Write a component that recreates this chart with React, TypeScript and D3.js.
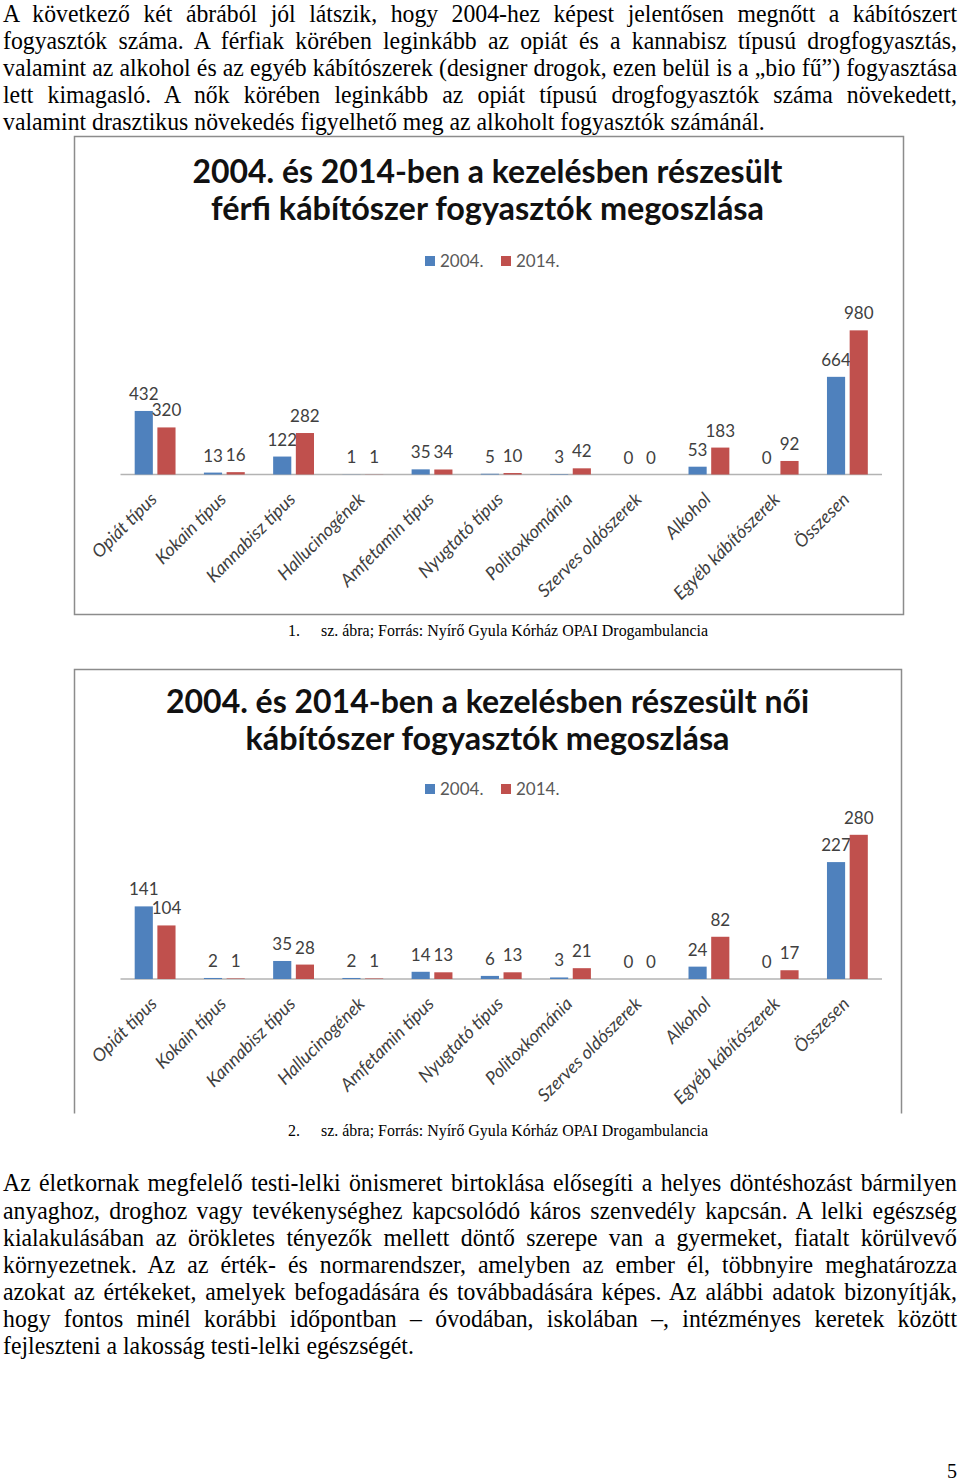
import { useEffect, useRef } from 'react';
import * as d3 from 'd3';

const categories = [
  'Opiát típus',
  'Kokain típus',
  'Kannabisz típus',
  'Hallucinogének',
  'Amfetamin típus',
  'Nyugtató típus',
  'Politoxkománia',
  'Szerves oldószerek',
  'Alkohol',
  'Egyéb kábítószerek',
  'Összesen',
];
const seriesNames = ['2004.', '2014.'];
const colors = ['#4F81BD', '#C0504D'];

const male2004 = [432, 13, 122, 1, 35, 5, 3, 0, 53, 0, 664];
const male2014 = [320, 16, 282, 1, 34, 10, 42, 0, 183, 92, 980];
const female2004 = [141, 2, 35, 2, 14, 6, 3, 0, 24, 0, 227];
const female2014 = [104, 1, 28, 1, 13, 13, 21, 0, 82, 17, 280];

const para1 = [
  'A következő két ábrából jól látszik, hogy 2004-hez képest jelentősen megnőtt a kábítószert',
  'fogyasztók száma. A férfiak körében leginkább az opiát és a kannabisz típusú drogfogyasztás,',
  'valamint az alkohol és az egyéb kábítószerek (designer drogok, ezen belül is a „bio fű”) fogyasztása',
  'lett kimagasló. A nők körében leginkább az opiát típusú drogfogyasztók száma növekedett,',
  'valamint drasztikus növekedés figyelhető meg az alkoholt fogyasztók számánál.',
];
const para2 = [
  'Az életkornak megfelelő testi-lelki önismeret birtoklása elősegíti a helyes döntéshozást bármilyen',
  'anyaghoz, droghoz vagy tevékenységhez kapcsolódó káros szenvedély kapcsán. A lelki egészség',
  'kialakulásában az örökletes tényezők mellett döntő szerepe van a gyermeket, fiatalt körülvevő',
  'környezetnek. Az az érték- és normarendszer, amelyben az ember él, többnyire meghatározza',
  'azokat az értékeket, amelyek befogadására és továbbadására képes. Az alábbi adatok bizonyítják,',
  'hogy fontos minél korábbi időpontban – óvodában, iskolában –, intézményes keretek között',
  'fejleszteni a lakosság testi-lelki egészségét.',
];

const maleTitle = ['2004. és 2014-ben a kezelésben részesült', 'férfi kábítószer fogyasztók megoszlása'];
const femaleTitle = ['2004. és 2014-ben a kezelésben részesült női', 'kábítószer fogyasztók megoszlása'];
const caption = 'sz. ábra; Forrás: Nyírő Gyula Kórház OPAI Drogambulancia';

const chartFont = 'Lato, "Open Sans", sans-serif';
const serif = '"Liberation Serif", "Times New Roman", serif';

interface ChartProps {
  frame: { x: number; y: number; w: number; h: number; openBottom?: boolean };
  titles: string[];
  titleWidths: number[];
  titleY: number[];
  legendY: number;
  axisY: number;
  plotTop: number;
  yMax: number;
  v2004: number[];
  v2014: number[];
}

function BarChart({ frame, titles, titleWidths, titleY, legendY, axisY, plotTop, yMax, v2004, v2014 }: ChartProps) {
  const x = d3.scaleBand<string>().domain(categories).range([120.5, 882]).paddingInner(0.41).paddingOuter(0.205);
  const xs = d3.scaleBand<string>().domain(seriesNames).range([0, x.bandwidth()]).paddingInner(0.2);
  const y = d3.scaleLinear().domain([0, yMax]).range([axisY, plotTop]);
  const values = [v2004, v2014];
  const cx = 487.5;

  const framePath = frame.openBottom
    ? `M${frame.x},${frame.y + frame.h}V${frame.y}H${frame.x + frame.w}V${frame.y + frame.h}`
    : `M${frame.x},${frame.y}H${frame.x + frame.w}V${frame.y + frame.h}H${frame.x}Z`;

  return (
    <g>
      <path d={framePath} fill="none" stroke="#8c8c8c" strokeWidth={1.5} />

      {/* cím */}
      {titles.map((t, i) => (
        <text
          key={t}
          x={cx}
          y={titleY[i]}
          textAnchor="middle"
          fontFamily={chartFont}
          fontWeight={700}
          fontSize={32}
          fill="#111"
          textLength={titleWidths[i]}
          lengthAdjust="spacingAndGlyphs"
        >
          {t}
        </text>
      ))}

      {/* jelmagyarázat */}
      {seriesNames.map((s, i) => (
        <g key={s} transform={`translate(${425 + i * 76},${legendY})`}>
          <rect x={0} y={-5} width={10} height={10} fill={colors[i]} />
          <text x={15} y={6} fontFamily={chartFont} fontSize={17} fill="#595959">
            {s}
          </text>
        </g>
      ))}

      {/* tengely */}
      <line x1={120.5} x2={882} y1={axisY} y2={axisY} stroke="#b3b3b3" strokeWidth={1.5} />

      {/* oszlopok */}
      {categories.map((c, ci) => (
        <g key={c} transform={`translate(${x(c)},0)`}>
          {seriesNames.map((s, si) => {
            const v = values[si][ci];
            return (
              <g key={s}>
                <rect
                  x={xs(s)}
                  y={y(v)}
                  width={xs.bandwidth()}
                  height={axisY - y(v)}
                  fill={colors[si]}
                />
                <text
                  x={(xs(s) ?? 0) + xs.bandwidth() / 2}
                  y={y(v) - 11}
                  textAnchor="middle"
                  fontFamily={chartFont}
                  fontSize={17}
                  fill="#404040"
                >
                  {v}
                </text>
              </g>
            );
          })}
          <text
            transform={`translate(${x.bandwidth() / 2 + 3},${axisY + 26}) rotate(-45)`}
            textAnchor="end"
            fontFamily={chartFont}
            fontStyle="italic"
            fontSize={18}
            fill="#404040"
          >
            {c}
          </text>
        </g>
      ))}
    </g>
  );
}

export default function App() {
  const svgRef = useRef<SVGSVGElement>(null);

  useEffect(() => {
    if (!svgRef.current) return;
    const svg = d3.select(svgRef.current);
    svg.selectAll<SVGTextElement, unknown>('text.justify').style('word-spacing', '0px');
    const ref = svg.select<SVGTextElement>('text.scale-ref').node();
    if (!ref) return;
    const s = 762 / ref.getComputedTextLength();
    svg.selectAll('g.body').attr('transform', `translate(3,0) scale(${s},1)`);
    svg.selectAll<SVGTextElement, unknown>('text.justify').each(function () {
      const w = this.getComputedTextLength();
      const spaces = ((this.textContent || '').match(/ /g) || []).length;
      if (spaces > 0) d3.select(this).style('word-spacing', `${(954 / s - w) / spaces}px`);
    });
  }, []);

  const lineH = 27.1;

  return (
    <svg
      ref={svgRef}
      width={960}
      height={1482}
      style={{ position: 'absolute', left: 0, top: 0, background: 'white' }}
    >
      <g className="body" transform="translate(3,0)">
        {para1.map((t, i) => (
          <text
            key={t}
            className={i === para1.length - 1 ? 'scale-ref' : 'justify'}
            x={0}
            y={21.5 + i * lineH}
            fontFamily={serif}
            fontSize={24.5}
            fill="#000"
          >
            {t}
          </text>
        ))}
      </g>

      <BarChart
        frame={{ x: 74.5, y: 136.5, w: 829, h: 478 }}
        titles={maleTitle}
        titleWidths={[590, 553]}
        titleY={[183, 220]}
        legendY={261}
        axisY={474.5}
        plotTop={298}
        yMax={1200}
        v2004={male2004}
        v2014={male2014}
      />
      <text x={288} y={636} fontFamily={serif} fontSize={16}>1.</text>
      <text x={321} y={636} fontFamily={serif} fontSize={16} textLength={387} lengthAdjust="spacingAndGlyphs">
        {caption}
      </text>

      <BarChart
        frame={{ x: 74.5, y: 669.5, w: 827, h: 444, openBottom: true }}
        titles={femaleTitle}
        titleWidths={[643, 484]}
        titleY={[713, 750]}
        legendY={789}
        axisY={979}
        plotTop={824.5}
        yMax={300}
        v2004={female2004}
        v2014={female2014}
      />
      <text x={288} y={1136} fontFamily={serif} fontSize={16}>2.</text>
      <text x={321} y={1136} fontFamily={serif} fontSize={16} textLength={387} lengthAdjust="spacingAndGlyphs">
        {caption}
      </text>

      <g className="body" transform="translate(3,0)">
        {para2.map((t, i) => (
          <text
            key={t}
            className={i === para2.length - 1 ? '' : 'justify'}
            x={0}
            y={1191.5 + i * lineH}
            fontFamily={serif}
            fontSize={24.5}
            fill="#000"
          >
            {t}
          </text>
        ))}
      </g>

      <text x={957} y={1478} textAnchor="end" fontFamily={serif} fontSize={20}>5</text>
    </svg>
  );
}
